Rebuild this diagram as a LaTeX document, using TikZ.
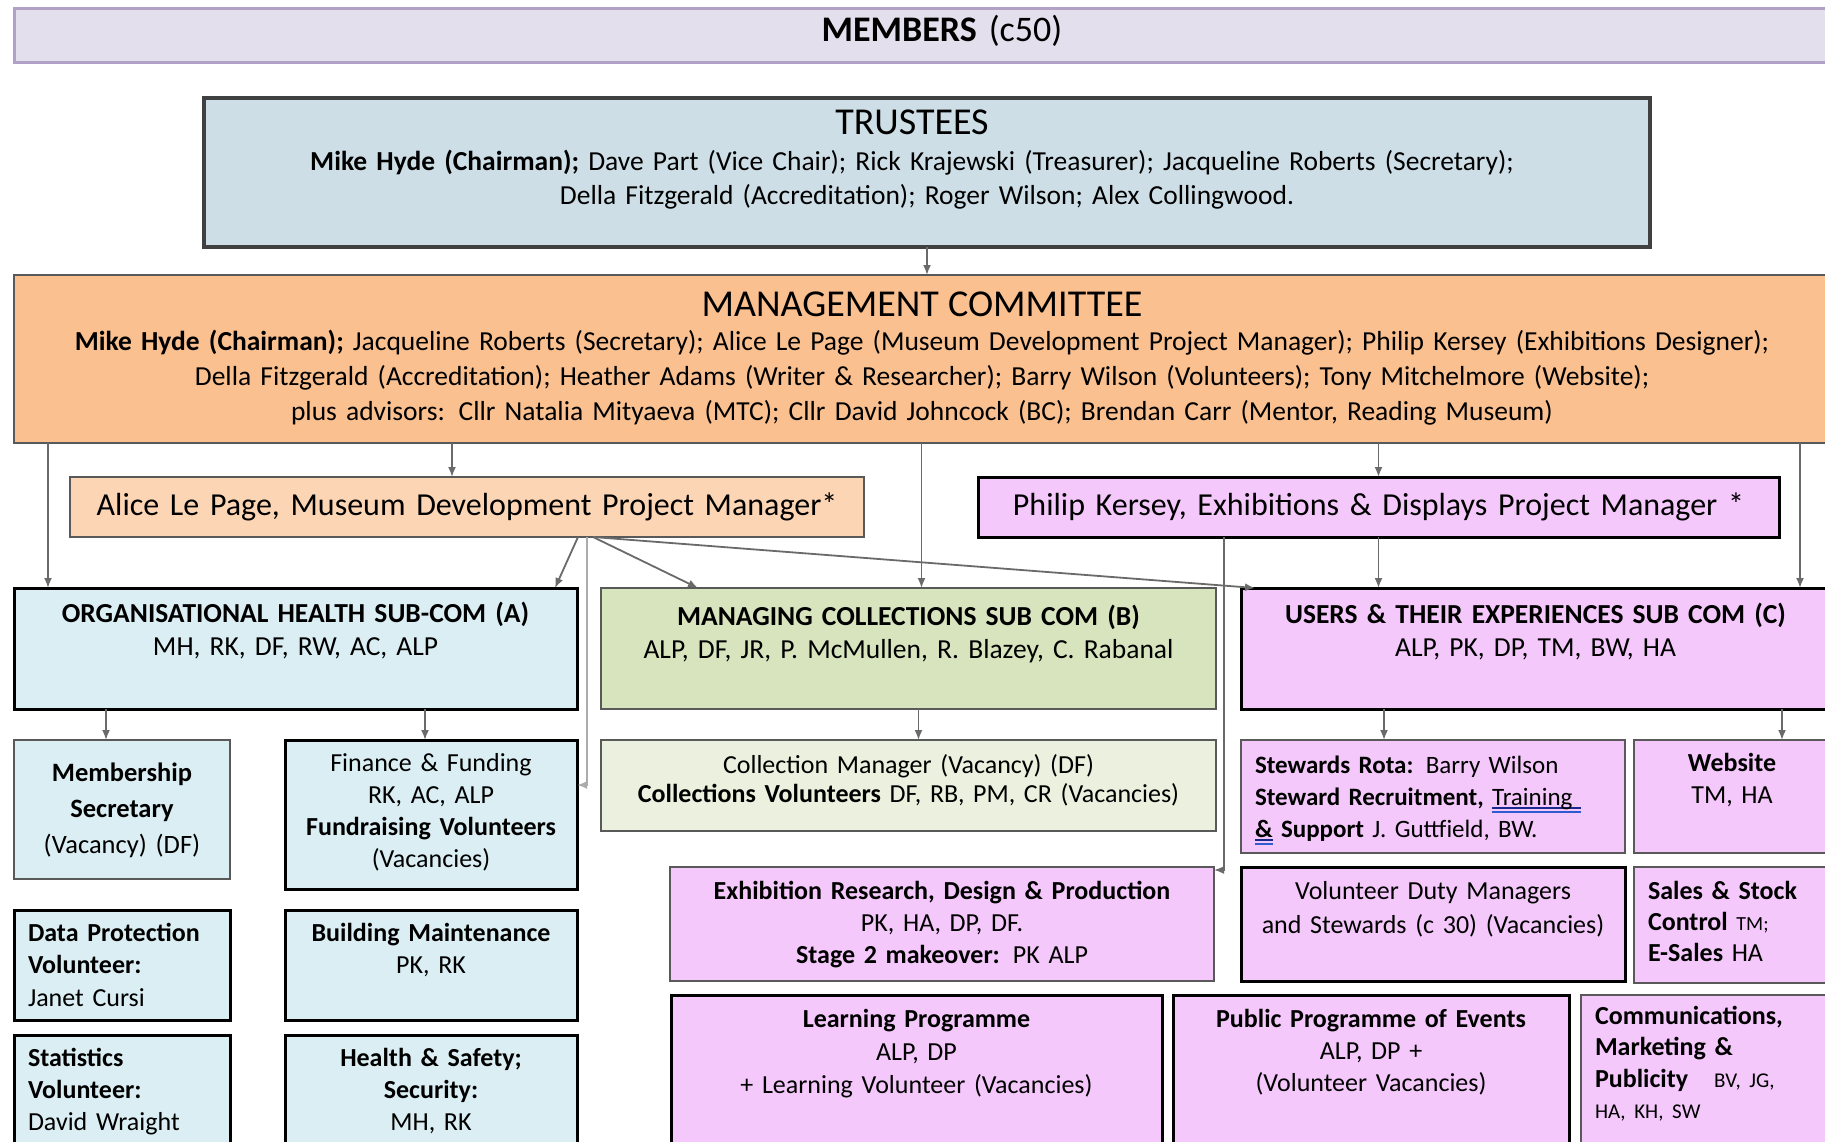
\documentclass[tikz,border=0pt]{standalone}
\usepackage{fontspec}
\setmainfont{Carlito}
\usepackage{xcolor}
\usetikzlibrary{positioning, arrows.meta}

\definecolor{memfill}{HTML}{E4DFEC}
\definecolor{memline}{HTML}{B2A1C7}
\definecolor{trufill}{HTML}{CDDEE6}
\definecolor{mgtfill}{HTML}{FAC08F}
\definecolor{alifill}{HTML}{FCD5B4}
\definecolor{pinkfill}{HTML}{F4C8FA}
\definecolor{bluefill}{HTML}{DAEEF3}
\definecolor{grnfill}{HTML}{D7E4BD}
\definecolor{palegrn}{HTML}{EBF1DE}
\definecolor{edgegray}{HTML}{595959}
\definecolor{linegray}{HTML}{6A6A6A}
\definecolor{linknavy}{HTML}{1A2A8C}
\definecolor{linkblue}{HTML}{2F5BD0}

\newlength{\ulwd}
\newcommand{\linkul}[1]{\leavevmode\settowidth{\ulwd}{#1}\rlap{\textcolor{linknavy}{\rule[-4pt]{\ulwd}{2.5pt}}}\rlap{\textcolor{linkblue}{\rule[-8pt]{\ulwd}{2.5pt}}}#1}

\begin{document}
\begin{tikzpicture}[
    x=1pt, y=-1pt,
    box/.style={draw=edgegray, line width=2.5pt, outer sep=0pt, inner xsep=14pt, inner ysep=0pt, align=center, font=\fontsize{26}{32}\selectfont},
    blk/.style={box, draw=black, line width=3pt},
    lbox/.style={align=left},
    sz/.style n args={3}{text width=#1pt, text height=#2pt, text depth=#3pt, anchor=north west},
    arr/.style={draw=linegray, line width=1.8pt, -{Latex[length=10pt, width=8pt]}},
    lite/.style={arr, draw=gray!65, line width=2.5pt}
  ]
  \fill[white] (0,0) rectangle (1825,1142);
  \useasboundingbox (0,0) rectangle (1825,1142);

  % top of the tree
  \node[box, draw=memline, fill=memfill, line width=3pt, font=\fontsize{36}{40}\selectfont, sz={1828}{33}{21}] (members) at (14,9) {\textbf{MEMBERS} (c50)};
  \node[box, draw=black!75, fill=trufill, line width=3.5pt, font=\fontsize{27.5}{34}\selectfont, below right=35pt and 190pt of members.south west, sz={1418}{37}{112}] (trustees)
    {\leftskip=0pt plus 1fill\rightskip=30pt plus 1fill\relax
     {\fontsize{38}{40}\selectfont TRUSTEES}\\[2pt]
     \textbf{Mike Hyde (Chairman);} Dave Part (Vice Chair); Rick Krajewski (Treasurer); Jacqueline Roberts (Secretary);\\
     Della Fitzgerald (Accreditation); Roger Wilson; Alex Collingwood.};
  \node[box, fill=mgtfill, font=\fontsize{27.5}{35}\selectfont, below right=28pt and -190pt of trustees.south west, sz={1788}{41}{127}] (mgmt)
    {{\fontsize{38}{40}\selectfont MANAGEMENT COMMITTEE}\\[-1pt]
     \textbf{Mike Hyde (Chairman);} Jacqueline Roberts (Secretary); Alice Le Page (Museum Development Project Manager); Philip Kersey (Exhibitions Designer);\\
     Della Fitzgerald (Accreditation); Heather Adams (Writer \& Researcher); Barry Wilson (Volunteers); Tony Mitchelmore (Website);\\
     plus advisors: Cllr Natalia Mityaeva (MTC); Cllr David Johncock (BC); Brendan Carr (Mentor, Reading Museum)};

  % project managers
  \node[box, fill=alifill, font=\fontsize{32}{36}\selectfont, below right=34pt and 56pt of mgmt.south west, sz={766}{38}{22}] (alice) {Alice Le Page, Museum Development Project Manager*};
  \node[blk, fill=pinkfill, font=\fontsize{32}{36}\selectfont, right=114pt of alice.north east, sz={773}{38}{22}] (philip) {Philip Kersey, Exhibitions \& Displays Project Manager *};

  % sub-committees
  \node[blk, fill=bluefill, font=\fontsize{27.5}{33}\selectfont, below right=51pt and -56pt of alice.south west, sz={535}{34}{87}] (orgA) {\textbf{ORGANISATIONAL HEALTH SUB-COM (A)}\\MH, RK, DF, RW, AC, ALP};
  \node[box, fill=grnfill, font=\fontsize{27.5}{33}\selectfont, right=24pt of orgA.north east, sz={587}{37}{84}] (collB) {\textbf{MANAGING COLLECTIONS SUB COM (B)}\\ALP, DF, JR, P. McMullen, R. Blazey, C. Rabanal};
  \node[blk, fill=pinkfill, font=\fontsize{27.5}{33}\selectfont, right=25pt of collB.north east, sz={561}{35}{86}] (usersC) {\textbf{USERS \& THEIR EXPERIENCES SUB COM (C)}\\ALP, PK, DP, TM, BW, HA};

  % second row
  \node[box, fill=bluefill, font=\fontsize{26.5}{36}\selectfont, below=31pt of orgA.south west, sz={188}{41}{98}] (membership) {\textbf{Membership}\\\textbf{Secretary}\\(Vacancy) (DF)};
  \node[blk, fill=bluefill, right=55pt of membership.north east, sz={264}{31}{118}] (finance) {Finance \& Funding\\RK, AC, ALP\\\textbf{Fundraising Volunteers}\\(Vacancies)};
  \node[box, fill=palegrn, font=\fontsize{26}{29}\selectfont, below=31pt of collB.south west, sz={587}{33}{58}] (collmgr) {Collection Manager (Vacancy) (DF)\\\textbf{Collections Volunteers} DF, RB, PM, CR (Vacancies)};
  \node[box, lbox, fill=pinkfill, font=\fontsize{25}{32}\selectfont, below=31pt of usersC.south west, sz={356}{33}{80}] (stewards) {\textbf{Stewards Rota:} Barry Wilson\\\textbf{Steward Recruitment,} \linkul{Training\ }\\\linkul{\textbf{\&}}\textbf{ Support} J. Guttfield, BW.};
  \node[box, fill=pinkfill, right=9pt of stewards.north east, sz={168}{31}{82}] (website) {\textbf{Website}\\TM, HA};

  % third row
  \node[blk, lbox, fill=bluefill, font=\fontsize{26}{32.5}\selectfont, below=31pt of membership.south west, sz={188}{31}{79}] (dataprot) {\textbf{Data Protection}\\\textbf{Volunteer:}\\Janet Cursi};
  \node[blk, fill=bluefill, below=21pt of finance.south west, sz={264}{31}{79}] (building) {\textbf{Building Maintenance}\\PK, RK};
  \node[box, fill=pinkfill, below right=36pt and 69pt of collmgr.south west, sz={516}{32}{82}] (exhib) {\textbf{Exhibition Research, Design \& Production}\\PK, HA, DP, DF.\\\textbf{Stage 2 makeover:} PK ALP};
  \node[blk, fill=pinkfill, font=\fontsize{26}{34}\selectfont, below=14pt of stewards.south west, sz={356}{32}{82}] (volduty) {Volunteer Duty Managers\\and Stewards (c 30) (Vacancies)};
  \node[box, lbox, fill=pinkfill, font=\fontsize{26}{31}\selectfont, right=9pt of volduty.north east, sz={168}{32}{84}] (sales) {\textbf{Sales \& Stock}\\\textbf{Control} {\fontsize{20}{24}\selectfont TM;}\\\textbf{E-Sales} HA};

  % fourth row
  \node[blk, lbox, fill=bluefill, below=15pt of dataprot.south west, sz={188}{31}{99}] (stats) {\textbf{Statistics}\\\textbf{Volunteer:}\\David Wraight};
  \node[blk, fill=bluefill, below=15pt of building.south west, sz={264}{31}{99}] (health) {\textbf{Health \& Safety;}\\\textbf{Security:}\\MH, RK};
  \node[blk, fill=pinkfill, font=\fontsize{26}{33}\selectfont, below right=14pt and 1pt of exhib.south west, sz={463}{32}{138}] (learning) {\textbf{Learning Programme}\\ALP, DP\\+ Learning Volunteer (Vacancies)};
  \node[blk, fill=pinkfill, right=11pt of learning.north east, sz={368}{32}{138}] (public) {\textbf{Public Programme of Events}\\ALP, DP +\\(Volunteer Vacancies)};
  \node[box, lbox, fill=pinkfill, font=\fontsize{26}{31.5}\selectfont, right=12pt of public.north east, sz={222}{29}{141}] (comms) {\textbf{Communications,}\\\textbf{Marketing \&}\\\textbf{Publicity}\quad{\fontsize{21}{24}\selectfont BV, JG,}\\{\fontsize{21}{24}\selectfont HA, KH, SW}};

  % reporting lines
  \draw[arr] (trustees.south) -- (trustees.south |- mgmt.north);
  \draw[arr] ([xshift=34pt]orgA.north west |- mgmt.south) -- ([xshift=34pt]orgA.north west);
  \draw[arr] ([xshift=-15pt]alice.north |- mgmt.south) -- ([xshift=-15pt]alice.north);
  \draw[arr] ([xshift=13pt]collB.north |- mgmt.south) -- ([xshift=13pt]collB.north);
  \draw[arr] (philip.north |- mgmt.south) -- (philip.north);
  \draw[arr] ([xshift=-30pt]usersC.north east |- mgmt.south) -- ([xshift=-30pt]usersC.north east);
  \draw[arr] (philip.south) -- (philip.south |- usersC.north);

  \draw[arr] ([xshift=111pt]alice.south) -- ([xshift=-22pt]orgA.north east);
  \draw[arr] ([xshift=126pt]alice.south) -- ([xshift=97pt]collB.north west);
  \draw[arr] ([xshift=126pt]alice.south) -- ([xshift=14pt]usersC.north west);
  \draw[lite] ([xshift=120pt]alice.south) |- ([yshift=-45pt]finance.north east);
  \draw[arr] ([xshift=246pt]philip.south west) |- ([yshift=-3pt]exhib.north east);

  \draw[arr] ([xshift=-16pt]membership.north |- orgA.south) -- ([xshift=-16pt]membership.north);
  \draw[arr] ([xshift=-6pt]finance.north |- orgA.south) -- ([xshift=-6pt]finance.north);
  \draw[arr] ([xshift=10pt]collmgr.north |- collB.south) -- ([xshift=10pt]collmgr.north);
  \draw[arr] ([xshift=-49pt]stewards.north |- usersC.south) -- ([xshift=-49pt]stewards.north);
  \draw[arr] ([xshift=50pt]website.north |- usersC.south) -- ([xshift=50pt]website.north);
\end{tikzpicture}
\end{document}
